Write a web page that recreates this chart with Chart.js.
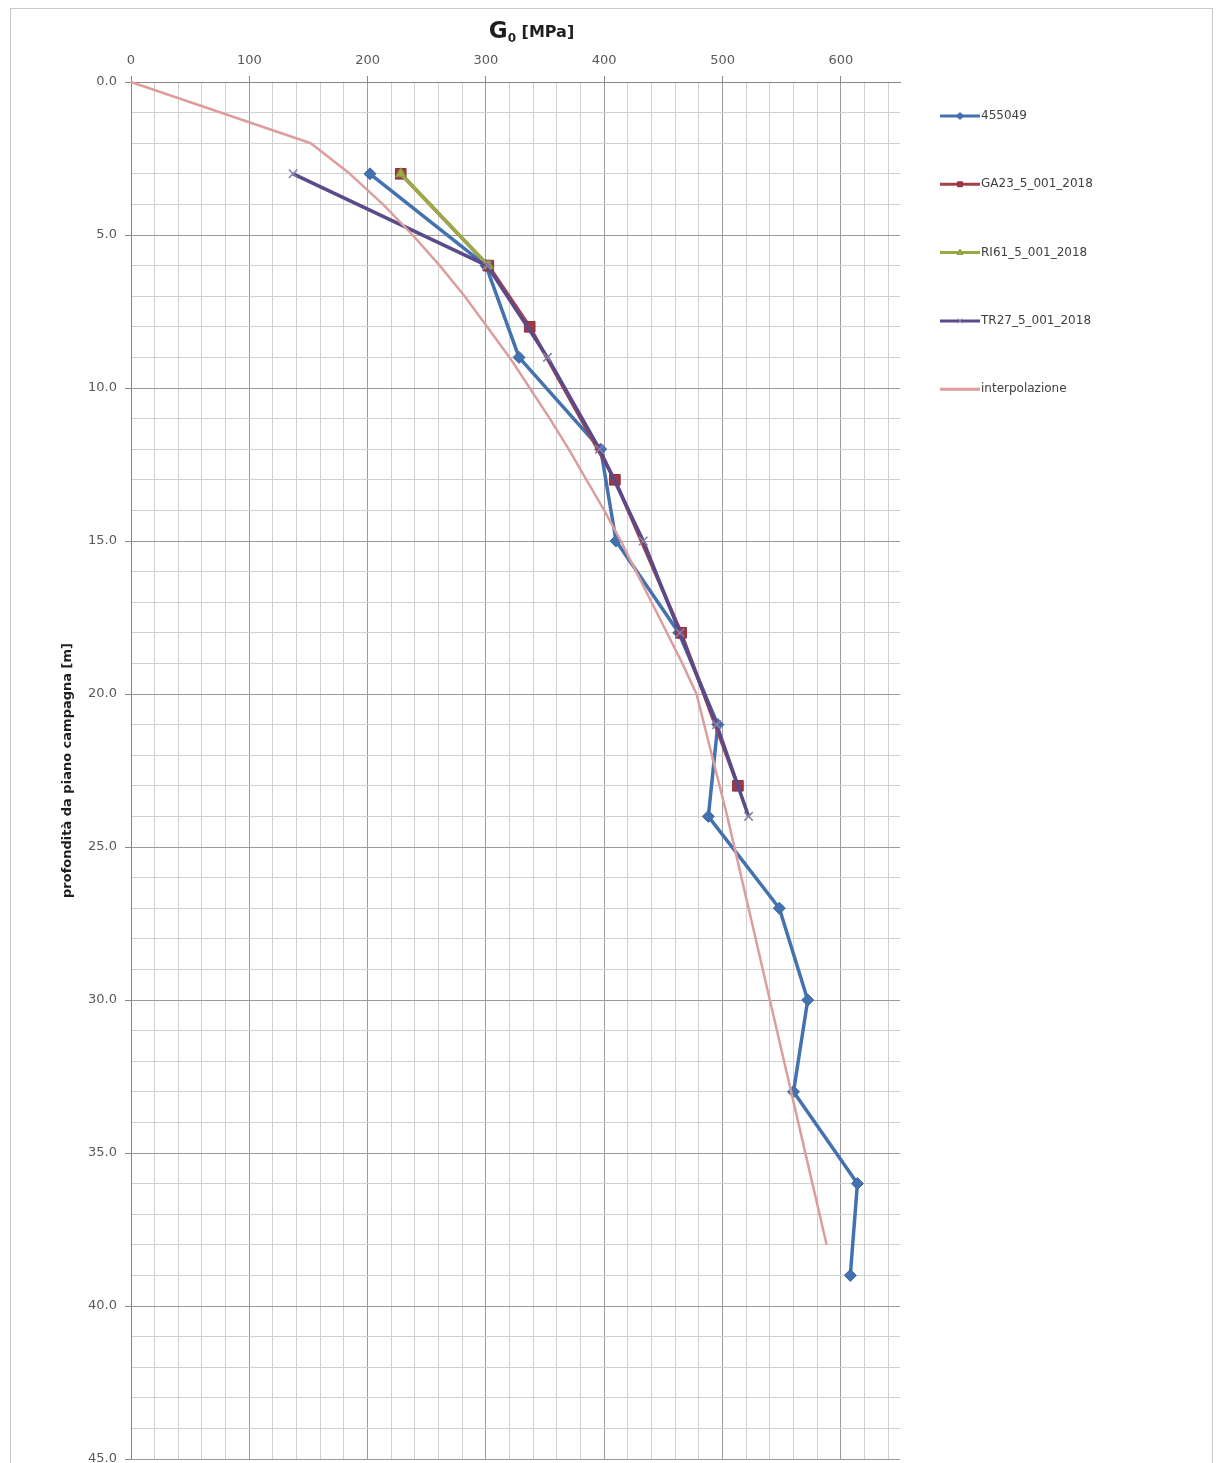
<!DOCTYPE html>
<html>
<head>
<meta charset="utf-8">
<title>G0 - profondità</title>
<script src="https://cdn.jsdelivr.net/npm/chart.js@4.4.1/dist/chart.umd.min.js"></script>
<style>
  html, body { margin: 0; padding: 0; background: #fff; overflow: hidden; }
  #wrap { position: relative; width: 1216px; height: 1463px; overflow: hidden; background: #fff; }
  #frame { position: absolute; left: 10px; top: 8px; width: 1203px; height: 1520px;
           border: 1px solid #c9c9c9; box-sizing: border-box; }
  #c { position: absolute; left: 0; top: 0; }
</style>
</head>
<body>
<div id="wrap">
  <div id="frame"></div>
  <canvas id="c" width="1216" height="1490"></canvas>
</div>
<script>
// ---- data: G0 [MPa] against depth below ground level [m] ----
const seriesNames = ['455049', 'GA23_5_001_2018', 'RI61_5_001_2018', 'TR27_5_001_2018', 'interpolazione'];

const depth455049 = [3, 6, 9, 12, 15, 18, 21, 24, 27, 30, 33, 36, 39];
const g0_455049   = [202, 300, 328, 397, 410, 463, 496, 488, 548, 572, 560, 614, 608];

const depthGA23 = [3, 6, 8, 13, 18, 23];
const g0_GA23   = [228, 302, 337, 409, 465, 513];

const depthRI61 = [3, 6];
const g0_RI61   = [228, 302];

const depthTR27 = [3, 6, 9, 12, 15, 18, 21, 24];
const g0_TR27   = [137, 301, 352, 396, 433, 464, 495, 522];

const depthInterp = [0, 2, 3, 4, 5, 6, 7, 8, 9, 10, 11, 12, 13, 14, 15, 16, 17, 18, 19, 20,
                     22, 24, 26, 28, 30, 32, 34, 36, 38];
const g0_Interp   = [0, 152, 185, 213, 238, 261, 282, 301, 320, 337, 354, 370, 385, 400, 414, 427, 440, 453, 466, 478,
                     491, 504, 516, 528, 540, 552, 564, 576, 588];

// tick labels
const gTickLabels     = ['0', '100', '200', '300', '400', '500', '600'];
const depthTickLabels = ['0.0', '5.0', '10.0', '15.0', '20.0', '25.0', '30.0', '35.0', '40.0', '45.0'];

const FONT = '"DejaVu Sans", sans-serif';
Chart.defaults.font.family = FONT;

const toPoints = (depths, values) => depths.map((d, i) => ({ x: values[i], y: d }));

const seriesStyle = [
  { color: '#4472b0', marker: 'rectRot',  radius: 6,   fill: '#4472b0', edge: '#3a64a0', order: 5, width: 3.5 },
  { color: '#a8404a', marker: 'rect',     radius: 7.5, fill: '#9e3a46', edge: '#8a3040', order: 4, width: 3.5 },
  { color: '#9aaa45', marker: 'triangle', radius: 6,   fill: '#9aaa45', edge: '#88983a', order: 3, width: 3.5 },
  { color: '#5a4a8a', marker: 'crossRot', radius: 6,   fill: '#8a80aa', edge: '#8a80aa', order: 2, width: 3.5 },
  { color: '#dc9e9c', marker: false,      radius: 0,   fill: '#dc9e9c', edge: '#dc9e9c', order: 1, width: 2.5 }
];

const seriesData = [
  toPoints(depth455049, g0_455049),
  toPoints(depthGA23, g0_GA23),
  toPoints(depthRI61, g0_RI61),
  toPoints(depthTR27, g0_TR27),
  toPoints(depthInterp, g0_Interp)
];

const datasets = seriesNames.map((name, i) => {
  const s = seriesStyle[i];
  return {
    label: name,
    data: seriesData[i],
    showLine: true,
    tension: 0,
    borderColor: s.color,
    borderWidth: s.width,
    borderJoinStyle: 'round',
    backgroundColor: s.fill,
    pointStyle: s.marker,
    pointRadius: s.radius,
    pointBackgroundColor: s.fill,
    pointBorderColor: s.edge,
    pointBorderWidth: s.marker === 'crossRot' ? 1.6 : 1,
    order: s.order,
    clip: false
  };
});

// axis title with subscript + legend at the right side
const overlay = {
  id: 'overlay',
  afterDraw(chart) {
    const { ctx, chartArea } = chart;
    ctx.save();

    // "G0 [MPa]"
    const parts = [
      { t: 'G',      f: 'bold 23px ' + FONT, dy: 0 },
      { t: '0',      f: 'bold 12px ' + FONT, dy: 4 },
      { t: ' [MPa]', f: 'bold 16px ' + FONT, dy: -1 }
    ];
    let total = 0;
    parts.forEach(p => { ctx.font = p.f; p.w = ctx.measureText(p.t).width; total += p.w; });
    let x = (chartArea.left + chartArea.right) / 2 + 16 - total / 2;
    const base = chartArea.top - 44;
    ctx.fillStyle = '#1e1e1e';
    ctx.textBaseline = 'alphabetic';
    ctx.textAlign = 'left';
    parts.forEach(p => { ctx.font = p.f; ctx.fillText(p.t, x, base + p.dy); x += p.w; });

    // legend
    const lx = chartArea.right + 40;
    const lineLen = 40;
    ctx.font = '12px ' + FONT;
    ctx.textBaseline = 'middle';
    chart.data.datasets.forEach((ds, i) => {
      const y = chartArea.top + 34 + i * 68.3;
      const s = seriesStyle[i];
      ctx.strokeStyle = ds.borderColor;
      ctx.lineWidth = 3;
      ctx.beginPath();
      ctx.moveTo(lx, y);
      ctx.lineTo(lx + lineLen, y);
      ctx.stroke();
      if (s.marker) {
        ctx.fillStyle = s.fill;
        ctx.strokeStyle = s.edge;
        ctx.lineWidth = 1;
        Chart.helpers.drawPoint(ctx, { pointStyle: s.marker, radius: 3.5, rotation: 0, borderWidth: 1 }, lx + lineLen / 2, y);
      }
      ctx.fillStyle = '#404040';
      ctx.fillText(ds.label, lx + lineLen + 1, y);
    });
    ctx.restore();
  }
};

const majorGrid = '#9a9a9a';
const minorGrid = '#d0d0d0';
const axisLine  = '#868686';

new Chart(document.getElementById('c'), {
  type: 'scatter',
  data: { datasets },
  options: {
    responsive: false,
    animation: false,
    events: [],
    layout: { padding: { left: 10, top: 8, right: 316, bottom: 31 } },
    plugins: { legend: { display: false }, tooltip: { enabled: false } },
    scales: {
      x: {
        type: 'linear',
        position: 'top',
        min: 0,
        max: 650,
        afterFit: (scale) => { scale.height = 74; },
        border: { color: axisLine, width: 1 },
        grid: {
          color: (c) => (c.tick && c.tick.value % 100 === 0) ? majorGrid : minorGrid,
          tickColor: (c) => (c.tick && c.tick.value % 100 === 0) ? axisLine : 'rgba(0,0,0,0)',
          tickLength: 6,
          lineWidth: 1
        },
        ticks: {
          stepSize: 20,
          includeBounds: false,
          autoSkip: false,
          maxRotation: 0,
          minRotation: 0,
          padding: 8,
          color: '#595959',
          font: { size: 13 },
          callback: (v) => (v % 100 === 0 ? gTickLabels[v / 100] : '')
        }
      },
      y: {
        type: 'linear',
        reverse: true,
        min: 0,
        max: 45,
        afterFit: (scale) => { scale.width = 121; },
        border: { color: axisLine, width: 1 },
        grid: {
          color: (c) => (c.tick && c.tick.value % 5 === 0) ? majorGrid : minorGrid,
          tickColor: (c) => (c.tick && c.tick.value % 5 === 0) ? axisLine : 'rgba(0,0,0,0)',
          tickLength: 6,
          lineWidth: 1
        },
        ticks: {
          stepSize: 1,
          autoSkip: false,
          padding: 8,
          color: '#595959',
          font: { size: 13 },
          callback: (v) => (v % 5 === 0 ? depthTickLabels[v / 5] : '')
        },
        title: {
          display: true,
          text: 'profondità da piano campagna [m]',
          color: '#1e1e1e',
          font: { size: 13, weight: 'bold' },
          padding: { top: 50, bottom: 0 }
        }
      }
    }
  },
  plugins: [overlay]
});
</script>
</body>
</html>
